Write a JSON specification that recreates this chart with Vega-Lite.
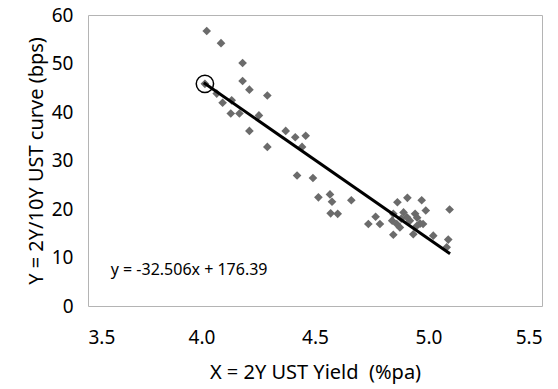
{
  "$schema": "https://vega.github.io/schema/vega-lite/v6.json",
  "width": 454,
  "height": 291,
  "autosize": {"type": "none"},
  "padding": {"left": 88, "top": 15, "right": 16, "bottom": 83},
  "background": "white",
  "config": {
    "font": "Noto Sans",
    "view": {"stroke": "#b4b4b4", "strokeWidth": 1},
    "axis": {"grid": false, "domain": false, "ticks": false, "labelFontSize": 19, "titleFontSize": 20, "titleFontWeight": "normal", "labelColor": "#000", "titleColor": "#000"}
  },
  "datasets": {
    "pts": [
      {"x": 4.023, "y": 56.7}, {"x": 4.086, "y": 54.2}, {"x": 4.181, "y": 50.1}, {"x": 4.181, "y": 46.4},
      {"x": 4.211, "y": 44.6}, {"x": 4.290, "y": 43.4}, {"x": 4.015, "y": 45.8}, {"x": 4.067, "y": 43.8},
      {"x": 4.133, "y": 42.4}, {"x": 4.093, "y": 41.9}, {"x": 4.129, "y": 39.7}, {"x": 4.167, "y": 39.7},
      {"x": 4.253, "y": 39.3}, {"x": 4.211, "y": 36.1}, {"x": 4.290, "y": 32.8}, {"x": 4.371, "y": 36.1},
      {"x": 4.413, "y": 34.8}, {"x": 4.459, "y": 35.1}, {"x": 4.443, "y": 32.8}, {"x": 4.421, "y": 26.9},
      {"x": 4.491, "y": 26.4}, {"x": 4.515, "y": 22.4}, {"x": 4.566, "y": 23.0}, {"x": 4.575, "y": 21.5},
      {"x": 4.660, "y": 21.8}, {"x": 4.569, "y": 19.1}, {"x": 4.600, "y": 19.0}, {"x": 4.735, "y": 16.9},
      {"x": 4.767, "y": 18.4}, {"x": 4.786, "y": 16.9}, {"x": 4.863, "y": 21.4}, {"x": 4.907, "y": 22.3},
      {"x": 4.970, "y": 21.8}, {"x": 4.988, "y": 19.7}, {"x": 5.093, "y": 19.9}, {"x": 4.890, "y": 19.3},
      {"x": 4.845, "y": 19.0}, {"x": 4.840, "y": 17.6}, {"x": 4.941, "y": 19.0}, {"x": 4.918, "y": 17.6},
      {"x": 4.963, "y": 17.0}, {"x": 4.874, "y": 16.2}, {"x": 4.860, "y": 16.9}, {"x": 4.845, "y": 14.7},
      {"x": 4.933, "y": 14.8}, {"x": 5.021, "y": 14.5}, {"x": 5.087, "y": 13.7}, {"x": 5.080, "y": 12.1},
      {"x": 4.948, "y": 16.5}, {"x": 4.905, "y": 18.3}, {"x": 4.880, "y": 18.0}, {"x": 4.950, "y": 18.2},
      {"x": 4.976, "y": 16.9}
    ],
    "fit": [{"x": 4.01, "y": 46.04}, {"x": 5.095, "y": 10.77}],
    "mark": [{"x": 4.015, "y": 45.8}],
    "eq": [{"x": 3.6, "y": 7.5, "label": "y = -32.506x + 176.39"}]
  },
  "layer": [
    {
      "data": {"name": "pts"},
      "mark": {"type": "point", "shape": "diamond", "filled": true, "color": "#6b6b6b", "opacity": 1, "size": 75},
      "encoding": {
        "x": {"field": "x", "type": "quantitative", "scale": {"domain": [3.5, 5.5], "nice": false, "zero": false},
          "axis": {"values": [3.5, 4.0, 4.5, 5.0, 5.5], "format": ".1f", "labelPadding": 22, "titlePadding": 15, "title": "X = 2Y UST Yield \u00a0(%pa)"}},
        "y": {"field": "y", "type": "quantitative", "scale": {"domain": [0, 60], "nice": false},
          "axis": {"values": [0, 10, 20, 30, 40, 50, 60], "labelPadding": 15, "titlePadding": 5, "title": "Y = 2Y/10Y UST curve (bps)"}}
      }
    },
    {
      "data": {"name": "fit"},
      "mark": {"type": "line", "color": "#000", "strokeWidth": 3},
      "encoding": {
        "x": {"field": "x", "type": "quantitative"},
        "y": {"field": "y", "type": "quantitative"}
      }
    },
    {
      "data": {"name": "mark"},
      "mark": {"type": "point", "shape": "circle", "filled": false, "color": "#000", "strokeWidth": 1.5, "size": 300, "opacity": 1},
      "encoding": {
        "x": {"field": "x", "type": "quantitative"},
        "y": {"field": "y", "type": "quantitative"}
      }
    },
    {
      "data": {"name": "eq"},
      "mark": {"type": "text", "align": "left", "baseline": "middle", "fontSize": 16, "color": "#000"},
      "encoding": {
        "x": {"field": "x", "type": "quantitative"},
        "y": {"field": "y", "type": "quantitative"},
        "text": {"field": "label"}
      }
    }
  ]
}
